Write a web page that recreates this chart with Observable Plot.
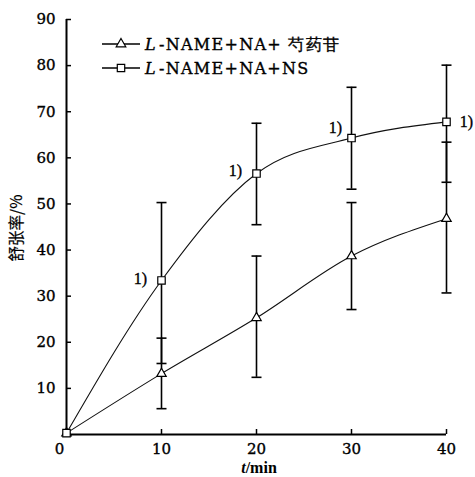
<!DOCTYPE html>
<html>
<head>
<meta charset="utf-8">
<script src="https://cdn.jsdelivr.net/npm/d3@7"></script>
<script src="https://cdn.jsdelivr.net/npm/@observablehq/plot@0.6"></script>
<style>
  html, body { margin: 0; padding: 0; background: #fff; }
  g[aria-label="x-axis tick label"] text,
  g[aria-label="y-axis tick label"] text,
  g[aria-label="text"] text,
  .thick { stroke: #000; stroke-width: 0.35px; }
  .thin { stroke: #000; stroke-width: 0.2px; }
</style>
</head>
<body>
<div id="chart"></div>
<script>
// ---- data ----
const times = [0, 10, 20, 30, 40];
const xTicks = [10, 20, 30, 40];
const xOrigin = [0];
const yTicks = [10, 20, 30, 40, 50, 60, 70, 80, 90];

// L-NAME+NA+芍药苷 (triangle)
const paeMean  = [0.3, 13.2, 25.3, 38.7, 46.8];
const paeLower = [null, 5.6, 12.4, 27.1, 30.7];
const paeUpper = [null, 20.9, 38.7, 50.3, 63.4];

// L-NAME+NA+NS (square)
const nsMean  = [0.3, 33.4, 56.6, 64.3, 67.8];
const nsLower = [null, 15.4, 45.5, 53.2, 54.7];
const nsUpper = [null, 50.3, 67.5, 75.3, 80.1];

const seriesNames = ["L-NAME+NA+ 芍药苷", "L-NAME+NA+NS"];
const sigMark = "1)";
const xTitle = ["t", "/min"];
const yTitle = "舒张率/%";

// ---- build tables ----
const pae = times.map((t, i) => ({t, v: paeMean[i], lo: paeLower[i], hi: paeUpper[i]}));
const ns  = times.map((t, i) => ({t, v: nsMean[i], lo: nsLower[i], hi: nsUpper[i]}));
const paeErr = pae.filter(d => d.lo != null);
const nsErr  = ns.filter(d => d.lo != null);
const nsSig = ns.filter(d => d.t > 0);

const capSymbol = {draw(ctx) { ctx.moveTo(-5, 0); ctx.lineTo(5, 0); }};
const serif = "'DejaVu Serif', 'Liberation Serif', serif";
const times_ = "'Liberation Serif', 'Times New Roman', serif";

function decor(index, scales, values, dimensions) {
  const g = d3.create("svg:g").attr("text-anchor", "start");
  // legend
  const rows = [{y: 44, sym: d3.symbolTriangle, name: seriesNames[0]},
                {y: 68, sym: d3.symbolSquare, name: seriesNames[1]}];
  for (const r of rows) {
    g.append("line").attr("x1", 102).attr("x2", 140).attr("y1", r.y).attr("y2", r.y)
      .attr("stroke", "#000").attr("stroke-width", 1.3);
    g.append("path").attr("transform", `translate(121,${r.y})`)
      .attr("d", d3.symbol(r.sym, r.sym === d3.symbolSquare ? 55 : 40)())
      .attr("fill", "#fff").attr("stroke", "#000").attr("stroke-width", 1.2);
    const t = g.append("text").attr("x", 145).attr("y", r.y + 6)
      .attr("class", "thick")
      .attr("text-anchor", "start").attr("letter-spacing", 1.3)
      .attr("font-family", serif).attr("font-size", 16).attr("fill", "#000");
    t.append("tspan").attr("font-style", "italic").text(r.name.slice(0, 1));
    t.append("tspan").attr("dx", 2).text(r.name.slice(1));
  }
  // x title
  const xt = g.append("text").attr("x", 259).attr("y", 473)
    .attr("text-anchor", "middle").attr("font-family", times_).attr("font-size", 16)
    .attr("font-weight", "bold").attr("fill", "#000");
  xt.append("tspan").attr("font-style", "italic").text(xTitle[0]);
  xt.append("tspan").text(xTitle[1]);
  // y title
  g.append("text").attr("transform", "translate(22,228) rotate(-90)")
    .attr("class", "thin")
    .attr("text-anchor", "middle").attr("font-family", "'Noto Sans CJK SC', 'Liberation Serif', sans-serif")
    .attr("font-size", 15.5).attr("fill", "#000").text(yTitle);
  return g.node();
}

const chart = Plot.plot({
  width: 475,
  height: 477,
  marginLeft: 66,
  marginRight: 29,
  marginTop: 19,
  marginBottom: 43,
  style: {background: "#fff", color: "#000"},
  x: {domain: [0, 40]},
  y: {domain: [0, 90]},
  marks: [
    Plot.axisX({ticks: xTicks, tickSize: -5, tickPadding: 14, label: null,
      fontSize: 15, fontFamily: serif, strokeWidth: 1.5}),
    Plot.axisX({ticks: xOrigin, tickSize: 0, tickPadding: 9, dx: -7, label: null,
      fontSize: 15, fontFamily: serif}),
    Plot.axisY({ticks: yTicks, tickSize: -5, tickPadding: 16, label: null,
      fontSize: 15, fontFamily: serif, strokeWidth: 1.5}),
    Plot.ruleX([0], {strokeWidth: 2}),
    Plot.ruleY([0], {strokeWidth: 2}),
    // error bars
    Plot.ruleX(nsErr, {x: "t", y1: "lo", y2: "hi", strokeWidth: 1.6}),
    Plot.ruleX(paeErr, {x: "t", y1: "lo", y2: "hi", strokeWidth: 1.6}),
    Plot.dot(nsErr, {x: "t", y: "lo", symbol: capSymbol, stroke: "#000", strokeWidth: 1.6}),
    Plot.dot(nsErr, {x: "t", y: "hi", symbol: capSymbol, stroke: "#000", strokeWidth: 1.6}),
    Plot.dot(paeErr, {x: "t", y: "lo", symbol: capSymbol, stroke: "#000", strokeWidth: 1.6}),
    Plot.dot(paeErr, {x: "t", y: "hi", symbol: capSymbol, stroke: "#000", strokeWidth: 1.6}),
    // lines
    Plot.line(pae, {x: "t", y: "v", curve: "monotone-x", stroke: "#111", strokeWidth: 1.1}),
    Plot.line(ns, {x: "t", y: "v", curve: "monotone-x", stroke: "#111", strokeWidth: 1.1}),
    // markers
    Plot.dot(pae, {x: "t", y: "v", symbol: "triangle", r: 3.5, fill: "#fff", stroke: "#000", strokeWidth: 1.2}),
    Plot.dot(ns, {x: "t", y: "v", symbol: "square", r: 4.2, fill: "#fff", stroke: "#000", strokeWidth: 1.2}),
    // significance labels
    Plot.text(nsSig.filter(d => d.t === 10), {x: "t", y: "v", text: () => sigMark, dx: -21, dy: -2, fontSize: 16, fontFamily: times_}),
    Plot.text(nsSig.filter(d => d.t === 20), {x: "t", y: "v", text: () => sigMark, dx: -21, dy: -3, fontSize: 16, fontFamily: times_}),
    Plot.text(nsSig.filter(d => d.t === 30), {x: "t", y: "v", text: () => sigMark, dx: -16, dy: -10, fontSize: 16, fontFamily: times_}),
    Plot.text(nsSig.filter(d => d.t === 40), {x: "t", y: "v", text: () => sigMark, dx: 20, dy: 0, fontSize: 16, fontFamily: times_}),
    decor
  ]
});
document.getElementById("chart").appendChild(chart);
</script>
</body>
</html>
